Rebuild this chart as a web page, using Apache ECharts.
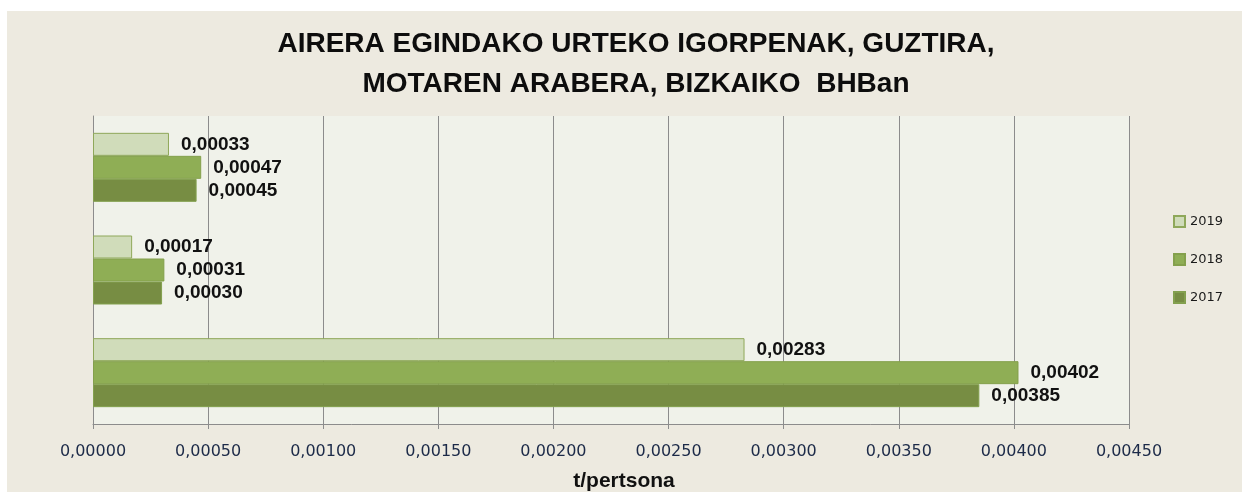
<!DOCTYPE html>
<html lang="eu">
<head>
    <meta charset="UTF-8">
    <title>Airera egindako urteko igorpenak</title>
    <script src="https://cdn.jsdelivr.net/npm/echarts@6/dist/echarts.min.js"></script>
    <style>
        * { box-sizing: border-box; margin: 0; padding: 0; }
        body { background: #ffffff; width: 1242px; height: 492px; overflow: hidden; }
        #chart-container {
            position: absolute;
            left: 7px;
            top: 11px;
            width: 1235px;
            height: 481px;
            background-color: #edeae0;
        }
    </style>
</head>
<body>
    <div id="chart-container"></div>

    <script type="text/javascript">
        // categories top to bottom (no labels shown in the original)
        const categories = ['Mota 1', 'Mota 2', 'Mota 3'];
        const years = ['2019', '2018', '2017'];
        const values2019 = [0.00033, 0.00017, 0.00283];
        const values2018 = [0.00047, 0.00031, 0.00402];
        const values2017 = [0.00045, 0.00030, 0.00385];
        const xTicks = [0, 0.0005, 0.001, 0.0015, 0.002, 0.0025, 0.003, 0.0035, 0.004, 0.0045];

        const fmt = v => v.toFixed(5).replace('.', ',');

        const colors = {
            '2019': { fill: '#d0dcba', border: '#8fa85a' },
            '2018': { fill: '#8fae55', border: '#84a04c' },
            '2017': { fill: '#778d43', border: '#83a04e' }
        };

        function makeSeries(name, data) {
            return {
                name: name,
                type: 'bar',
                data: data,
                barWidth: 23,
                barGap: '0%',
                itemStyle: {
                    color: colors[name].fill,
                    borderColor: colors[name].border,
                    borderWidth: 1
                },
                label: {
                    show: true,
                    position: 'right',
                    distance: 12,
                    formatter: p => fmt(p.value),
                    fontFamily: 'Liberation Sans',
                    fontWeight: 'bold',
                    fontSize: 19,
                    color: '#111111'
                }
            };
        }

        const chartDom = document.getElementById('chart-container');
        let myChart = echarts.init(chartDom);

        myChart.setOption({
            animation: false,
            title: {
                text: 'AIRERA EGINDAKO URTEKO IGORPENAK, GUZTIRA,\nMOTAREN ARABERA, BIZKAIKO  BHBan',
                left: 624,
                top: 8,
                textAlign: 'center',
                textStyle: {
                    fontFamily: 'Liberation Sans',
                    fontWeight: 'bold',
                    fontSize: 28,
                    lineHeight: 40,
                    color: '#0d0d0d'
                }
            },
            legend: {
                data: years,
                orient: 'vertical',
                left: 1161,
                top: 199,
                itemWidth: 11,
                itemHeight: 11,
                itemGap: 25,
                icon: 'rect',
                textStyle: {
                    fontFamily: 'DejaVu Sans',
                    fontSize: 13,
                    color: '#1a1a1a'
                }
            },
            grid: {
                left: 86,
                top: 105,
                width: 1036,
                height: 308,
                show: true,
                backgroundColor: '#f0f2ea',
                borderWidth: 0,
                containLabel: false,
                outerBoundsMode: 'none'
            },
            xAxis: {
                type: 'value',
                min: 0,
                max: 0.0045,
                interval: 0.0005,
                name: 't/pertsona',
                nameLocation: 'middle',
                nameGap: 47,
                nameTextStyle: {
                    fontFamily: 'Liberation Sans',
                    fontWeight: 'bold',
                    fontSize: 21,
                    color: '#111111',
                    padding: [0, 0, 0, 26]
                },
                axisLine: { show: true, lineStyle: { color: '#8c8c8c', width: 1 } },
                axisTick: { show: true, length: 5, lineStyle: { color: '#8c8c8c' } },
                splitLine: { show: true, lineStyle: { color: '#8c8c8c', width: 1 } },
                axisLabel: {
                    margin: 20,
                    formatter: v => fmt(v),
                    fontFamily: 'DejaVu Sans',
                    fontSize: 16,
                    color: '#1c2a48',
                    customValues: xTicks
                }
            },
            yAxis: {
                type: 'category',
                data: categories,
                inverse: true,
                axisLine: { show: true, lineStyle: { color: '#8c8c8c', width: 1 } },
                axisTick: { show: false },
                axisLabel: { show: false },
                splitLine: { show: false }
            },
            series: [
                makeSeries('2019', values2019),
                makeSeries('2018', values2018),
                makeSeries('2017', values2017)
            ]
        });

        window.addEventListener('resize', function() {
            if (myChart) {
                myChart.resize();
            }
        });
    </script>
</body>
</html>
